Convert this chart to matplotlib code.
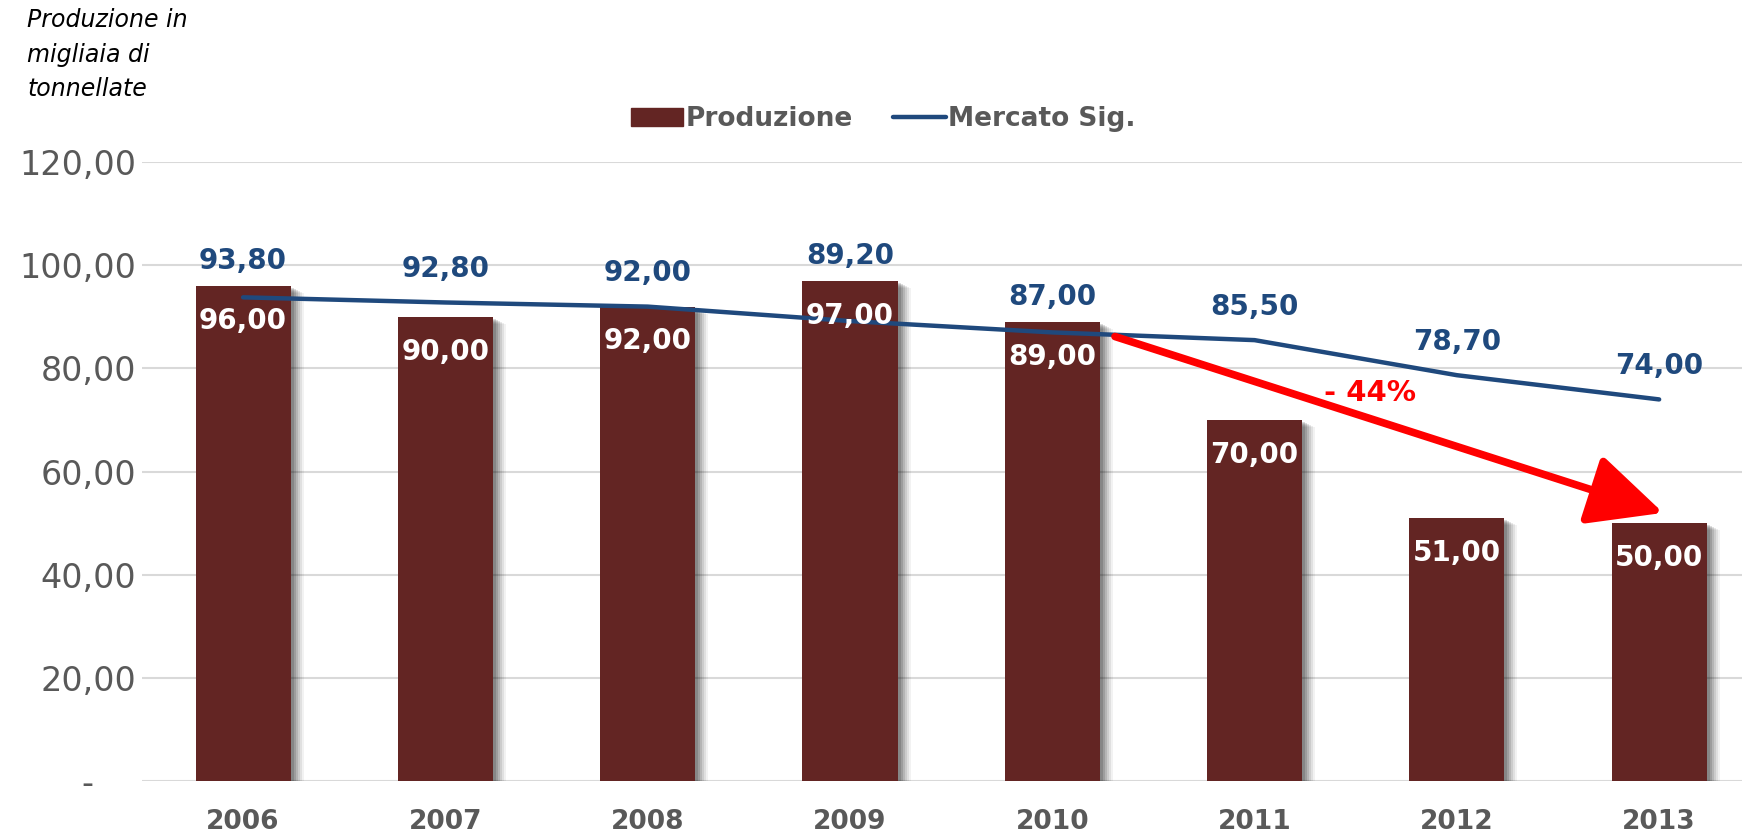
import numpy as np
import matplotlib
matplotlib.use('Agg')
from matplotlib import pyplot as plt
from matplotlib import transforms
from matplotlib.ticker import FuncFormatter
from matplotlib.patches import Patch
from matplotlib.lines import Line2D

plt.rcParams['font.family'] = ['DejaVu Sans']

years = ['2006', '2007', '2008', '2009', '2010', '2011', '2012', '2013']
produzione = [96.0, 90.0, 92.0, 97.0, 89.0, 70.0, 51.0, 50.0]
mercato = [93.8, 92.8, 92.0, 89.2, 87.0, 85.5, 78.7, 74.0]

bar_color = '#632523'
line_color = '#1F497D'
gray = '#595959'


def fmt_it(v):
    # Italian style: comma as decimal separator
    return ('%.2f' % v).replace('.', ',')


fig = plt.figure(figsize=(17.42, 8.35), dpi=100)
ax = fig.add_axes([0.0815, 0.0647, 0.929, 0.741])

x = np.arange(len(years))
w = 0.47

# soft shadow behind the bars
for k, a in enumerate([0.14, 0.13, 0.11, 0.09, 0.07, 0.05]):
    off = transforms.offset_copy(ax.transData, fig=fig, x=3 + 2 * k, y=-2 - k, units='dots')
    ax.bar(x, produzione, w, color='black', alpha=a, transform=off, zorder=1, linewidth=0)

ax.bar(x, produzione, w, color=bar_color, zorder=2, linewidth=0)
ax.plot(x, mercato, color=line_color, lw=3.2, solid_capstyle='round', zorder=3)

for i in range(len(years)):
    ax.annotate(fmt_it(produzione[i]), (x[i], produzione[i]), xytext=(0, -25),
                textcoords='offset points', ha='center', va='center',
                color='white', fontsize=20, fontweight='bold', zorder=5)
    ly = max(mercato[i] + 6.5, produzione[i] + 4.8)
    ax.text(x[i], ly, fmt_it(mercato[i]), ha='center', va='center',
            color=line_color, fontsize=20, fontweight='bold', zorder=5)

# arrow showing the drop in production 2010 -> 2013
start = (x[4] + 0.31, mercato[4] - 0.8)
end = (x[7] + 0.02, produzione[7] + 2)
ax.annotate('', xy=end, xytext=start,
            arrowprops=dict(arrowstyle='-|>,head_length=2.3,head_width=1.1',
                            lw=5.5, color='red', shrinkA=0, shrinkB=0,
                            mutation_scale=20), zorder=6)
drop = (produzione[7] - produzione[4]) / produzione[4] * 100
ax.annotate('- %d%%' % round(abs(drop)), ((start[0] + end[0]) / 2, (start[1] + end[1]) / 2),
            xytext=(-14, 23), textcoords='offset points', ha='center', va='center',
            color='red', fontsize=21, fontweight='bold', zorder=6)

ax.set_xlim(-0.5, len(years) - 0.5)
ax.set_ylim(0, 120)
ax.set_yticks(np.arange(0, 121, 20))
ax.yaxis.set_major_formatter(FuncFormatter(lambda v, p: '-    ' if v == 0 else fmt_it(v)))
ax.set_xticks(x)
ax.set_xticklabels(years, fontweight='bold')
ax.tick_params(axis='y', length=0, labelsize=24, labelcolor=gray, pad=4)
ax.tick_params(axis='x', length=0, labelsize=19, labelcolor=gray, pad=20)
ax.grid(axis='y', color='#D9D9D9', lw=1.5, zorder=0)
ax.set_axisbelow(True)
for s in ax.spines.values():
    s.set_visible(False)

fig.text(27 / 1742, 1 - 8 / 835, 'Produzione in\nmigliaia di\ntonnellate', ha='left', va='top',
         fontsize=17, style='italic', color='black', linespacing=1.56)

handles = [Patch(color=bar_color), Line2D([], [], color=line_color, lw=3.2, solid_capstyle='round')]
leg = fig.legend(handles, ['Produzione', 'Mercato Sig.'], loc='center', bbox_to_anchor=(0.507, 0.857),
                 ncol=2, frameon=False, handlelength=2.0, handletextpad=0.1, columnspacing=1.5,
                 prop={'size': 19, 'weight': 'bold'})
for t in leg.get_texts():
    t.set_color(gray)

fig.savefig('out.png', dpi=100)
